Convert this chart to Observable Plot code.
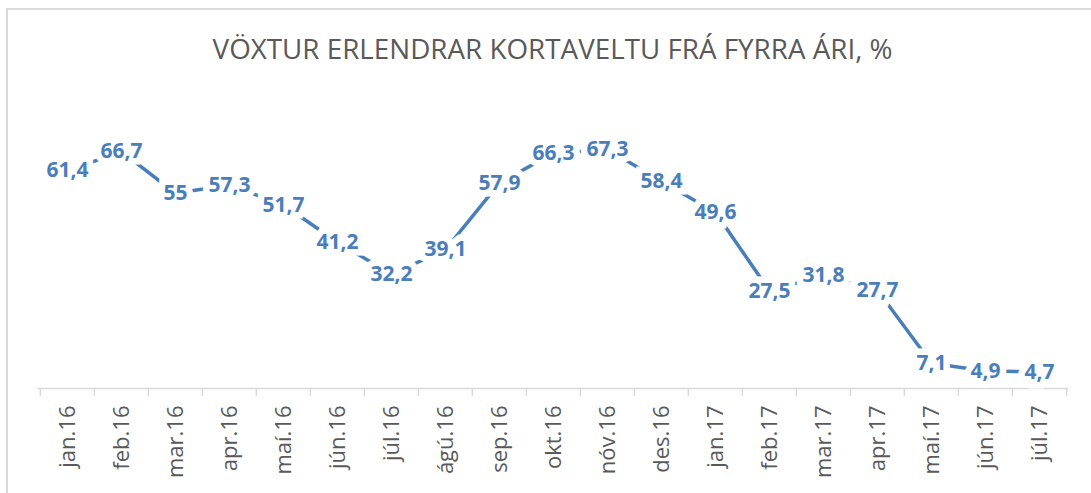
<!DOCTYPE html>
<html>
<head>
<meta charset="utf-8">
<script src="https://cdn.jsdelivr.net/npm/d3@7"></script>
<script src="https://cdn.jsdelivr.net/npm/@observablehq/plot@0.6"></script>
<style>
  html, body { margin: 0; padding: 0; background: #fff; }
  #wrap { position: relative; width: 1091px; height: 493px; overflow: hidden; }
  #frame { position: absolute; left: 6px; top: 8px; width: 1200px; height: 600px; border: 2px solid #d9d9d9; box-sizing: border-box; }
  #title { position: absolute; left: 0; top: 34px; width: 1091px; text-align: center; padding-left: 14px; box-sizing: border-box;
           font-family: "Open Sans", sans-serif; font-size: 28px; line-height: 28px; color: #595959; white-space: nowrap; }
  #title span { display: inline-block; transform-origin: center; }
  #chart { position: absolute; left: 0; top: 0; }
</style>
</head>
<body>
<div id="wrap">
  <div id="frame"></div>
  <div id="title"><span>VÖXTUR ERLENDRAR KORTAVELTU FRÁ FYRRA ÁRI, %</span></div>
  <div id="chart"></div>
</div>
<script>
const months = ["jan.16","feb.16","mar.16","apr.16","maí.16","jún.16","júl.16","ágú.16","sep.16","okt.16","nóv.16","des.16","jan.17","feb.17","mar.17","apr.17","maí.17","jún.17","júl.17"];
const values = [61.4,66.7,55,57.3,51.7,41.2,32.2,39.1,57.9,66.3,67.3,58.4,49.6,27.5,31.8,27.7,7.1,4.9,4.7];

const data = months.map((m, i) => ({m, v: values[i], label: String(values[i]).replace(".", ",")}));

const W = 1091, H = 493;
const mL = 37, mR = W - 1068;
const step = (W - mL - mR) / months.length;
const blue = "#4a7ebb";
const gridGray = "#d9d9d9";

const plot = Plot.plot({
  width: W,
  height: H,
  marginLeft: mL,
  marginRight: mR,
  marginTop: 104,
  marginBottom: H - 388,
  style: {fontFamily: "Open Sans", background: "transparent", overflow: "visible"},
  x: {type: "point", domain: months, padding: 0.5, label: null},
  y: {domain: [0, 80], axis: null},
  marks: [
    Plot.ruleY([0], {stroke: gridGray, strokeWidth: 1.5}),
    Plot.ruleX(months, {x: d => d, y1: 0, y2: -2.25, dx: -step / 2, stroke: gridGray, strokeWidth: 1.5}),
    Plot.ruleX(months.slice(-1), {x: d => d, y1: 0, y2: -2.25, dx: step / 2, stroke: gridGray, strokeWidth: 1.5}),
    Plot.axisX({tickSize: 0, tickRotate: -90, tickPadding: 17, fontSize: 22, fill: "#595959", label: null}),
    Plot.line(data, {x: "m", y: "v", stroke: blue, strokeWidth: 3.5}),
    Plot.text(data, {x: "m", y: "v", text: "label", fontSize: 21, fontWeight: "bold", fill: "white", stroke: "white", strokeWidth: 13, strokeLinejoin: "miter", strokeMiterlimit: 10}),
    Plot.text(data, {x: "m", y: "v", text: "label", fontSize: 21, fontWeight: "bold", fill: blue})
  ]
});
document.getElementById("chart").appendChild(plot);

const span = document.querySelector("#title span");
const w = span.getBoundingClientRect().width;
span.style.transform = `scaleX(${680 / w})`;
</script>
</body>
</html>
